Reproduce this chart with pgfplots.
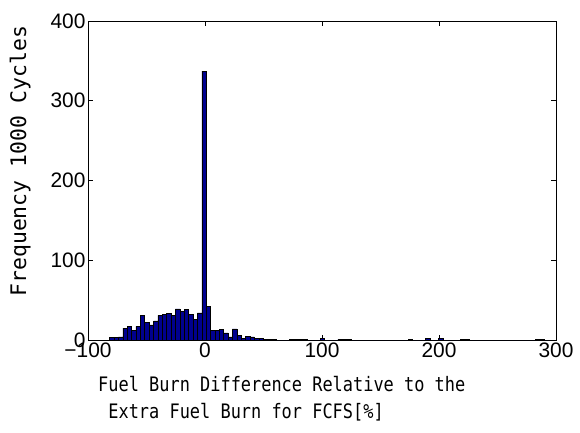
\documentclass[border=0pt]{standalone}
\usepackage{fontspec}
\setmainfont{Liberation Sans}
\newfontfamily\labelfont{DejaVu Sans Mono}
\newfontfamily\xlabfont[FakeStretch=0.85]{DejaVu Sans Mono}
\usepackage{pgfplots}
\pgfplotsset{compat=1.18}
\definecolor{barblue}{rgb}{0,0,0.5625}
\begin{document}
\begin{tikzpicture}[x=1bp,y=1bp]
\useasboundingbox (0,0) rectangle (580,432);
\begin{axis}[
  at={(88bp,92bp)}, anchor=south west,
  scale only axis, width=468bp, height=319bp,
  xmin=-100, xmax=300, ymin=0, ymax=400,
  xtick={-100,0,100,200,300},
  xticklabels={−100,0,100,200,300},
  ytick={0,100,200,300,400},
  yticklabels={0,100,200,300,400},
  tick align=inside, major tick length=5bp,
  tick style={black, line width=0.6bp},
  axis line style={line width=0.8bp},
  ticklabel style={font=\fontsize{21}{24}\selectfont},
  xticklabel style={yshift=1bp},
  yticklabel style={xshift=1bp},
  xlabel={Fuel Burn Difference Relative to the\\ \phantom{x}Extra Fuel Burn for FCFS[\%]},
  xlabel style={font=\xlabfont\fontsize{20}{27}\selectfont, align=left,
    at={(axis description cs:0.414,-0.183)}, anchor=center},
  ylabel={Frequency 1000 Cycles},
  ylabel style={font=\labelfont\fontsize{21.5}{24}\selectfont,
    at={(axis description cs:-0.145,0.561)}, anchor=center, rotate=0},
]
\addplot[ybar interval, fill=barblue, draw=black, line width=0.5bp] coordinates {
(-81.5,3) (-77.75,3) (-74,4) (-70.25,15) (-66.5,17) (-62.75,12) (-59,17)
(-55.25,31) (-51.5,22) (-47.75,19) (-44,24) (-40.25,31) (-36.5,32)
(-32.75,33) (-29,31) (-25.25,39) (-21.5,36) (-17.75,38) (-14,32)
(-10.25,26) (-6.5,34) (-2.75,337) (1,42) (4.75,12) (8.5,12) (12.25,13)
(16,9) (19.75,4) (23.5,14) (27.25,6) (31,2) (34.75,5) (38.5,4) (42.25,2)
(46,2) (49.75,1) (53.5,1) (57.25,1) (61,0) (64.75,0) (68.5,0) (72.25,1)
(76,1) (79.75,1) (83.5,1) (87.25,0) (91,0) (94.75,0) (98.5,2) (102.25,0)
(106,0) (109.75,0) (113.5,1) (117.25,1) (121,1) (124.75,0) (128.5,0)
(132.25,0) (136,0) (139.75,0) (143.5,0) (147.25,0) (151,0) (154.75,0)
(158.5,0) (162.25,0) (166,0) (169.75,0) (173.5,1) (177.25,0) (181,0)
(184.75,0) (188.5,2) (192.25,0) (196,0) (199.75,2) (203.5,0) (207.25,0)
(211,0) (214.75,0) (218.5,1) (222.25,1) (226,0) (229.75,0) (233.5,0)
(237.25,0) (241,0) (244.75,0) (248.5,0) (252.25,0) (256,0) (259.75,0)
(263.5,0) (267.25,0) (271,0) (274.75,0) (278.5,0) (282.25,1) (286,1)
(289.75,0) (293.5,0)
};
\end{axis}
\end{tikzpicture}
\end{document}
